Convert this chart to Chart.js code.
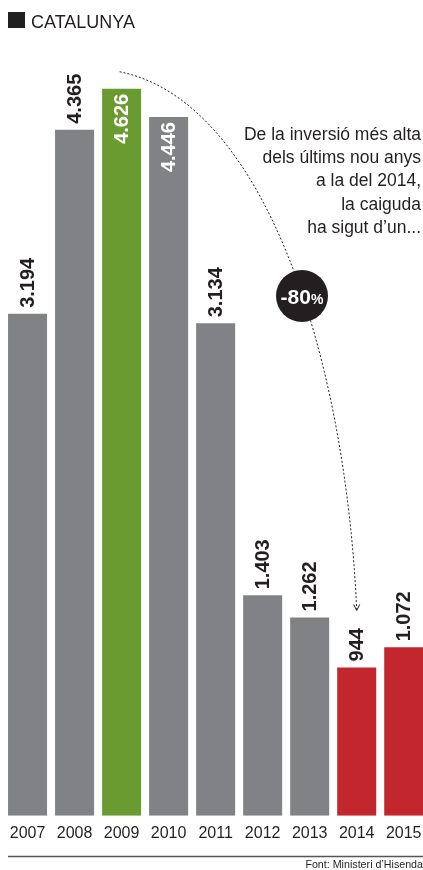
<!DOCTYPE html>
<html>
<head>
<meta charset="utf-8">
<script src="https://cdn.jsdelivr.net/npm/chart.js@4.4.0/dist/chart.umd.min.js"></script>
<style>
  html, body { margin: 0; padding: 0; background: #fff; overflow: hidden; }
  #wrap { position: relative; width: 423px; height: 870px; }
</style>
</head>
<body>
<div id="wrap"><canvas id="c"></canvas></div>
<script>
// ---- Data ----
const years = ['2007', '2008', '2009', '2010', '2011', '2012', '2013', '2014', '2015'];
const investment = [3194, 4365, 4626, 4446, 3134, 1403, 1262, 944, 1072];
const valueLabels = ['3.194', '4.365', '4.626', '4.446', '3.134', '1.403', '1.262', '944', '1.072'];
const titleText = 'CATALUNYA';
const noteLines = ['De la inversió més alta', 'dels últims nou anys', 'a la del 2014,', 'la caiguda', 'ha sigut d\u2019un...'];
const dropLabel = '-80';
const sourceText = 'Font: Ministeri d\u2019Hisenda';

const GRAY = '#818285', GREEN = '#6a9b30', RED = '#c1272d', INK = '#231f20';
const barColors = years.map((y, i) => i === 2 ? GREEN : (i >= 7 ? RED : GRAY));
const insideLabel = [false, false, true, true, false, false, false, false, false];
const NARROW = "'Liberation Sans Narrow', 'Liberation Sans', Arial, sans-serif";
const SANS = "'Liberation Sans', Arial, sans-serif";
const firstYear = +years[0], lastYear = +years[years.length - 1];

const decor = {
  id: 'decor',
  afterDatasetsDraw(chart) {
    const ctx = chart.ctx;
    const meta = chart.getDatasetMeta(0);
    ctx.save();
    ctx.font = 'bold 20px ' + SANS;
    ctx.textBaseline = 'middle';
    meta.data.forEach((bar, i) => {
      ctx.save();
      ctx.translate(bar.x, bar.y);
      ctx.rotate(-Math.PI / 2);
      if (insideLabel[i]) {
        ctx.fillStyle = '#ffffff';
        ctx.textAlign = 'right';
        ctx.fillText(valueLabels[i], -5, 1);
      } else {
        ctx.fillStyle = INK;
        ctx.textAlign = 'left';
        ctx.fillText(valueLabels[i], 6, 1);
      }
      ctx.restore();
    });
    ctx.restore();
  },
  afterDraw(chart) {
    const ctx = chart.ctx;
    const meta = chart.getDatasetMeta(0);
    ctx.save();
    // title
    ctx.fillStyle = INK;
    ctx.fillRect(8, 12, 17, 16);
    ctx.font = '18px ' + NARROW;
    ctx.textAlign = 'left';
    ctx.textBaseline = 'alphabetic';
    ctx.fillText(titleText, 31, 28);

    // note text
    ctx.font = '17.5px ' + NARROW;
    ctx.textAlign = 'right';
    ctx.textBaseline = 'middle';
    noteLines.forEach((t, i) => ctx.fillText(t, 421, 135 + i * 23.3));

    // dashed curve from 2009 peak to 2014
    const b0 = meta.data[2], b3 = meta.data[7];
    const x0 = b0.x - 2, y0 = b0.y - 17;
    const x3 = b3.x, y3 = b3.y - 58;
    ctx.strokeStyle = INK;
    ctx.lineWidth = 1;
    ctx.setLineDash([2, 2]);
    ctx.beginPath();
    ctx.moveTo(x0, y0);
    ctx.bezierCurveTo(262, 100, 345, 350, x3, y3);
    ctx.stroke();
    ctx.setLineDash([]);
    ctx.beginPath();
    ctx.moveTo(x3 - 3, y3 - 5);
    ctx.lineTo(x3, y3 + 1);
    ctx.lineTo(x3 + 3, y3 - 5);
    ctx.stroke();

    // circle
    const cx = 302, cy = 296;
    ctx.fillStyle = INK;
    ctx.beginPath();
    ctx.arc(cx, cy, 26, 0, Math.PI * 2);
    ctx.fill();
    ctx.fillStyle = '#fff';
    ctx.textBaseline = 'alphabetic';
    ctx.font = 'bold 21px ' + NARROW;
    const w1 = ctx.measureText(dropLabel).width;
    ctx.font = 'bold 14px ' + NARROW;
    const w2 = ctx.measureText('%').width;
    const sx = cx - (w1 + w2) / 2;
    ctx.textAlign = 'left';
    ctx.font = 'bold 21px ' + NARROW;
    ctx.fillText(dropLabel, sx, cy + 8);
    ctx.font = 'bold 14px ' + NARROW;
    ctx.fillText('%', sx + w1, cy + 8);

    // bottom rule and source
    ctx.strokeStyle = '#555';
    ctx.lineWidth = 1.5;
    ctx.beginPath();
    ctx.moveTo(8, 856.5);
    ctx.lineTo(423, 856.5);
    ctx.stroke();
    ctx.fillStyle = INK;
    ctx.font = '10.7px ' + NARROW;
    ctx.textAlign = 'right';
    ctx.textBaseline = 'middle';
    ctx.fillText(sourceText, 423, 865);
    ctx.restore();
  }
};

new Chart(document.getElementById('c'), {
  type: 'bar',
  data: {
    labels: years,
    datasets: [{
      data: investment,
      backgroundColor: barColors,
      borderWidth: 0,
      barPercentage: 0.83,
      categoryPercentage: 1.0
    }]
  },
  options: {
    responsive: true,
    maintainAspectRatio: false,
    animation: false,
    devicePixelRatio: 1,
    layout: { padding: { left: 0, right: 0, top: 30, bottom: 27 } },
    plugins: { legend: { display: false }, tooltip: { enabled: false } },
    scales: {
      x: {
        type: 'linear',
        min: firstYear - 0.586,
        max: lastYear + 0.41,
        offset: false,
        grid: { display: true, drawOnChartArea: false, drawTicks: true, tickLength: 8, color: 'rgba(0,0,0,0)', tickColor: 'rgba(0,0,0,0)' },
        border: { display: false },
        ticks: {
          color: INK, font: { family: NARROW, size: 16 }, padding: 0,
          maxRotation: 0, autoSkip: false, stepSize: 1, includeBounds: false,
          callback: (v) => Number.isInteger(v) ? String(v) : ''
        }
      },
      y: {
        display: false,
        min: 0,
        max: 5000
      }
    }
  },
  plugins: [decor]
});
</script>
</body>
</html>
